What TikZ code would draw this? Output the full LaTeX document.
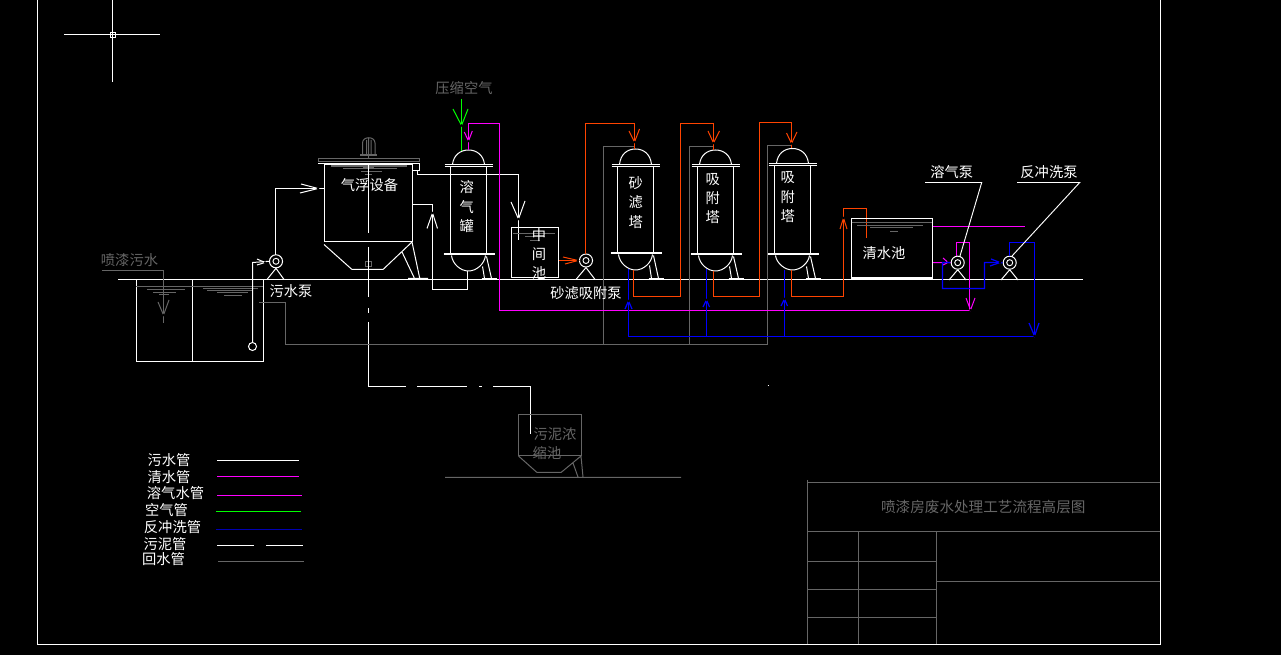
\documentclass[tikz,border=0pt]{standalone}
\usepackage{fontspec}
\setmainfont{Noto Sans CJK SC}
\definecolor{cadgray}{HTML}{666666}
\definecolor{cadorange}{HTML}{FF4400}
\definecolor{cadmag}{HTML}{FF00FF}
\definecolor{cadblue}{HTML}{0000FF}
\definecolor{cadgreen}{HTML}{00FF00}
\tikzset{
  wl/.style={draw=white,line width=0.75pt},
  gl/.style={draw=cadgray,line width=0.75pt},
  ol/.style={draw=cadorange,line width=0.75pt},
  ml/.style={draw=cadmag,line width=0.75pt},
  bl/.style={draw=cadblue,line width=0.9pt},
  grl/.style={draw=cadgreen,line width=0.75pt},
  lab/.style={text=white,inner sep=0pt,font=\fontsize{10.7}{12}\selectfont},
  glab/.style={text=cadgray,inner sep=0pt,font=\fontsize{10.7}{12}\selectfont},
  pumpo/.style={circle,draw=white,line width=0.75pt,minimum size=9.8pt,inner sep=0pt},
  pumpi/.style={circle,draw=white,line width=0.7pt,minimum size=4.5pt,inner sep=0pt},
  tankbox/.style={rectangle,draw=white,line width=0.75pt,inner sep=0pt}
}
% tower: centre x, peak y, shoulder y, bottom flange y, lowest y
\newcommand{\towershape}[5]{
  \draw[wl] (#1-16,#3) .. controls (#1-15,#2+5) and (#1-8,#2) .. (#1,#2) .. controls (#1+8,#2) and (#1+15,#2+5) .. (#1+16,#3);
  \draw[wl] (#1-24,#3) -- (#1+24,#3) (#1-24,#3+2) -- (#1+24,#3+2);
  \draw[wl] (#1-18,#3+2) -- (#1-18,#4) (#1+18,#3+2) -- (#1+18,#4);
  \draw[wl] (#1-25,#4) -- (#1+26,#4) (#1-25,#4+1.5) -- (#1+26,#4+1.5);
  \draw[wl] (#1-17,#4+2) .. controls (#1-16,#5-7) and (#1-8,#5) .. (#1,#5) .. controls (#1+8,#5) and (#1+16,#5-7) .. (#1+17,#4+2);
  \draw[wl] (#1+18,#4+3) -- (#1+23,278.5) (#1+14,#4+13) -- (#1+16,278.5);
  \draw[wl] (#1+13,278.5) -- (#1+28,278.5);
}
% open arrow: tip, arm, arm
\newcommand{\openarrow}[4]{
  \draw[#1] (#3) -- (#2) -- (#4);
  \fill[#1,draw=none] (#2) circle (1.3);
}
\begin{document}
\begin{tikzpicture}[x=0.75pt,y=-0.75pt]
\useasboundingbox (0,0) rectangle (1281,655);
\fill[black] (0,0) rectangle (1281,655);

% frame and crosshair
\draw[wl] (37.5,0) -- (37.5,644.5) -- (1160.5,644.5) -- (1160.5,0);
\draw[wl] (64,34.5) -- (160,34.5) (112.5,0) -- (112.5,82);
\draw[wl,line width=0.6pt] (110,32) rectangle (115,37);

% title block
\draw[gl] (807.5,482.5) -- (1160,482.5) (807.5,531.5) -- (1160,531.5)
  (807.5,480) -- (807.5,644) (858.5,531.5) -- (858.5,644) (936.5,531.5) -- (936.5,644)
  (807.5,561.5) -- (936.5,561.5) (807.5,589.5) -- (936.5,589.5) (807.5,617.5) -- (936.5,617.5)
  (936.5,581.5) -- (1160,581.5);
\node[glab,font=\fontsize{10.95}{12}\selectfont] (title) at (983.3,507.3) {喷漆房废水处理工艺流程高层图};

% ground
\draw[wl] (118,279.5) -- (1083,279.5);

% sewage tank
\draw[wl] (136.5,279.5) -- (136.5,361.5) -- (263.5,361.5) -- (263.5,279.5) (192.5,279.5) -- (192.5,361.5);
\draw[gl] (136,286.5) -- (263,286.5)
  (147,289.5) -- (185,289.5) (153,293) -- (176,293) (159,294.5) -- (169,294.5)
  (203,288.5) -- (258,288.5) (207,290.5) -- (253,290.5) (217,292.5) -- (248,292.5) (224,295.5) -- (242,295.5);
\node[glab] (ltin) at (129.5,260) {喷漆污水};
\draw[gl] (102,270.5) -- (163.5,270.5) -- (163.5,322.7);
\openarrow{gl}{163.5,315}{158,302}{169,300}

% sewage pump
\node[pumpo] (p1) at (276,261.3) {};
\node[pumpi] (p1i) at (276,261.3) {};
\draw[wl] (p1.south) -- (267,279.5) (p1.south) -- (284,279.5);
\node[lab] (lp1) at (291,291) {污水泵};
\node[circle,draw=white,line width=0.75pt,minimum size=6pt,inner sep=0pt] (suct) at (252.5,346.5) {};
\draw[wl] (suct.north) -- (252.5,262.5) -- (p1.west);
\openarrow{wl}{265,262.5}{257,259}{257,265}
\coordinate (fin) at (324.5,188.5);
\draw[wl] (275.5,255) -- (275.5,188.5) -- (fin);
\openarrow{wl}{318,188.5}{301,184}{300,193}

% flotation unit
\node[tankbox,minimum width=66pt,minimum height=57.75pt] (daf) at (368.5,203) {};
\draw[wl] (318,163.5) -- (419.5,163.5);
\draw[gl] (318.5,158.5) rectangle (419,162);
\draw[wl] (324,244.5) -- (352,269.5) -- (383,269.5) -- (412,242) -- (420,279.5) (402,252) -- (415,279.5) (408,278.5) -- (428,278.5);
\draw[gl] (362.5,155) -- (362.5,143) .. controls (362.5,136) and (375,136) .. (375,143) -- (375,155)
  (366.5,155) -- (366.5,140) (371,155) -- (371,140) (368.5,155) -- (368.5,138);
\draw[gl,line width=1.6pt] (360,155) -- (377,155);
\draw[gl] (368.5,155) -- (368.5,158);
\draw[gl,line width=1.4pt] (331,165.7) -- (407,165.7) (363,167) -- (374,167);
\draw[gl] (343,168.5) -- (397,168.5) (361,171.5) -- (382,171.5) (365,174.5) -- (372,174.5)
  (365.7,262) rectangle (371,267);
\node[lab] (ldaf) at (369.5,185) {气浮设备};

% sludge pipe
\coordinate (sl) at (530.5,434);
\draw[wl] (368.5,164) -- (368.5,233) (368.5,247) -- (368.5,297) (368.5,308) -- (368.5,313) (368.5,322) -- (368.5,386.5) -- (406,386.5)
  (417,386.5) -- (467,386.5) (479,386.5) -- (481.5,386.5) (493,386.5) -- (530.5,386.5) -- (sl)
  (767.5,385.5) -- (768.5,385.5);

% sludge tank
\draw[gl] (518.5,414.5) rectangle (581.5,455.5);
\draw[gl] (518.5,456) -- (537,472.5) -- (561,472.5) -- (581,456) -- (583,477) (573,463) -- (578,477) (445,477.5) -- (681,477.5);
\node[glab] (lsa) at (555,434.5) {污泥浓};
\node[glab] (lsb) at (547,453) {缩池};

% return water
\draw[gl] (259,302.5) -- (285.5,302.5) -- (285.5,344.5) -- (767.5,344.5) -- (767.5,145.5) -- (791.5,145.5);
\draw[gl] (603.5,344.5) -- (603.5,146.5) -- (634.5,146.5);
\draw[gl] (689.5,344.5) -- (689.5,146.5) -- (713.5,146.5);

% dissolved air tank
\towershape{468.5}{150}{164.5}{253.5}{271}
\node[lab] (l1a) at (466.7,186.7) {溶};
\node[lab] (l1b) at (466.7,206.7) {气};
\node[lab] (l1c) at (466.7,226) {罐};
\draw[wl] (412.5,204.5) -- (432.5,204.5) -- (432.5,289.5) -- (467.5,289.5) -- (467.5,271);
\openarrow{wl}{432.5,213}{427,228.5}{437.5,228.5}
\node[glab] (lair) at (464,88) {压缩空气};
\draw[grl] (461.5,99) -- (461.5,151);
\openarrow{grl}{461.5,125.5}{453,109}{468,109}

% intermediate tank
\node[tankbox,minimum width=35.25pt,minimum height=37.5pt] (mid) at (535,252.5) {};
\draw[wl] (412.5,164) -- (419.5,164) -- (419.5,171) -- (412.5,171) (417.5,171) -- (417.5,174.5) -- (518.5,174.5) -- (518.5,240);
\openarrow{wl}{518.5,219}{511,202}{525,201}
\draw[gl] (513,233.5) -- (555,233.5) (525,236.5) -- (545,236.5) (530,240.5) -- (540,240.5);
\node[lab] (lm1) at (539,235.5) {中};
\node[lab] (lm2) at (539,254) {间};
\node[lab] (lm3) at (539,273) {池};

% sand pump
\node[pumpo] (p2) at (586,260.5) {};
\node[pumpi] (p2i) at (586,260.5) {};
\draw[wl] (p2.south) -- (576,279.5) (p2.south) -- (595,279.5);
\node[lab] (lp2) at (586,292.7) {砂滤吸附泵};
\draw[ol] (mid.east |- p2.west) -- (p2.west);
\openarrow{ol}{578,260.5}{563,257}{565,264}

% towers
\towershape{635.5}{149}{164.5}{252.5}{270}
\towershape{715.5}{150}{164.5}{253.5}{271}
\towershape{792.5}{148.5}{163.5}{253.5}{270}
\node[lab] (t1a) at (635.7,183) {砂};
\node[lab] (t1b) at (635.7,202) {滤};
\node[lab] (t1c) at (635.7,221.7) {塔};
\node[lab] (t2a) at (712.7,180) {吸};
\node[lab] (t2b) at (712.7,198) {附};
\node[lab] (t2c) at (712.7,217) {塔};
\node[lab] (t3a) at (787.7,178) {吸};
\node[lab] (t3b) at (787.7,197) {附};
\node[lab] (t3c) at (787.7,215.7) {塔};

% orange pipes
\draw[ol] (585.5,254) -- (585.5,123.5) -- (634.5,123.5) -- (634.5,149);
\openarrow{ol}{634.5,142}{629,131}{639.5,129}
\draw[ol] (633.5,270) -- (633.5,296.5) -- (680.5,296.5) -- (680.5,123.5) -- (713.5,123.5) -- (713.5,150);
\openarrow{ol}{713.5,143}{708,131}{719.5,131}
\draw[ol] (713.5,271) -- (713.5,296.5) -- (759.5,296.5) -- (759.5,122.5) -- (791.5,122.5) -- (791.5,148);
\openarrow{ol}{791.5,143.5}{786.5,133}{797,132}
\draw[ol] (791.5,270) -- (791.5,296.5) -- (843.5,296.5) -- (843.5,208.5) -- (866.5,208.5) -- (866.5,238.3);
\openarrow{ol}{843.5,218}{840,229}{847,229}

% clear water tank
\node[tankbox,minimum width=60.75pt,minimum height=45pt] (clr) at (892,248.5) {};
\draw[wl] (851.5,278) -- (932.5,278);
\draw[gl] (851.5,222.5) -- (932,222.5) (857,225.5) -- (922.5,225.5) (870,227.5) -- (913,227.5) (890,231.5) -- (898,231.5);
\node[lab] (lclr) at (884,253) {清水池};

% pumps
\node[pumpo] (p3) at (957.7,262.7) {};
\node[pumpi] (p3i) at (957.7,262.7) {};
\draw[wl] (p3.south) -- (949,280) (p3.south) -- (966,280);
\node[pumpo] (p4) at (1009.7,262.7) {};
\node[pumpi] (p4i) at (1009.7,262.7) {};
\draw[wl] (p4.south) -- (1001,280) (p4.south) -- (1018,280);
\node[lab] (lp3) at (951.7,171.7) {溶气泵};
\node[lab] (lp4) at (1049,172) {反冲洗泵};

% magenta pipes
\draw[ml] (468.5,150) -- (468.5,123.5) -- (499.5,123.5) -- (499.5,310.5) -- (970.5,310.5) (969.5,310.5) -- (969.5,242.5) -- (956.5,242.5) -- (956.5,256);
\openarrow{ml}{468.5,141}{464.3,132}{472.3,131}
\openarrow{ml}{970.5,310}{966,298}{975,298}
\draw[ml] (clr.east |- 0,226.5) -- (1025,226.5);
\draw[ml] (clr.east |- 0,262.5) -- (p3.west);
\openarrow{ml}{948,262.5}{943,258}{943,265}

% blue pipes
\draw[bl] (950,262.5) -- (942.5,262.5) -- (942.5,288.5) -- (984.5,288.5) -- (984.5,262.5) -- (p4.west);
\openarrow{bl}{1000,262.5}{991,259}{990,266}
\draw[bl] (1009.5,256) -- (1009.5,242.5) -- (1034.5,242.5) -- (1034.5,336.5) -- (628.5,336.5) -- (628.5,269);
\openarrow{bl}{1034.5,336}{1029,323}{1039,323}
\openarrow{bl}{628.5,301}{625,309}{632,309}
\draw[bl] (706.5,336.5) -- (706.5,269);
\openarrow{bl}{706.5,300}{703,307}{709.5,307}
\draw[bl] (784.5,336.5) -- (784.5,270);
\openarrow{bl}{784.5,299}{781,306}{787.5,306}

% pump leaders
\draw[wl,line width=0.7pt] (925,182.5) -- (981.7,182.5) -- (960,256);
\draw[wl,line width=0.7pt] (1017,182.5) -- (1079.7,182.5) -- (1012,256);

% legend
\node[lab] (k1) at (169,460) {污水管};
\node[lab] (k2) at (169,477) {清水管};
\node[lab] (k3) at (175.5,493) {溶气水管};
\node[lab] (k4) at (166.5,510) {空气管};
\node[lab] (k5) at (172.5,527) {反冲洗管};
\node[lab] (k6) at (165,544) {污泥管};
\node[lab] (k7) at (163.5,559) {回水管};
\draw[wl] (217,460.5) -- (299,460.5);
\draw[ml] (217,476.5) -- (299,476.5);
\draw[ml] (217,495.5) -- (302,495.5);
\draw[grl] (216,511.5) -- (301,511.5);
\draw[draw=cadblue!70!black,line width=0.75pt] (216,529.5) -- (302,529.5);
\draw[wl] (217,545.5) -- (254,545.5) (266,545.5) -- (303,545.5);
\draw[gl] (218,561.5) -- (304,561.5);
\end{tikzpicture}
\end{document}
